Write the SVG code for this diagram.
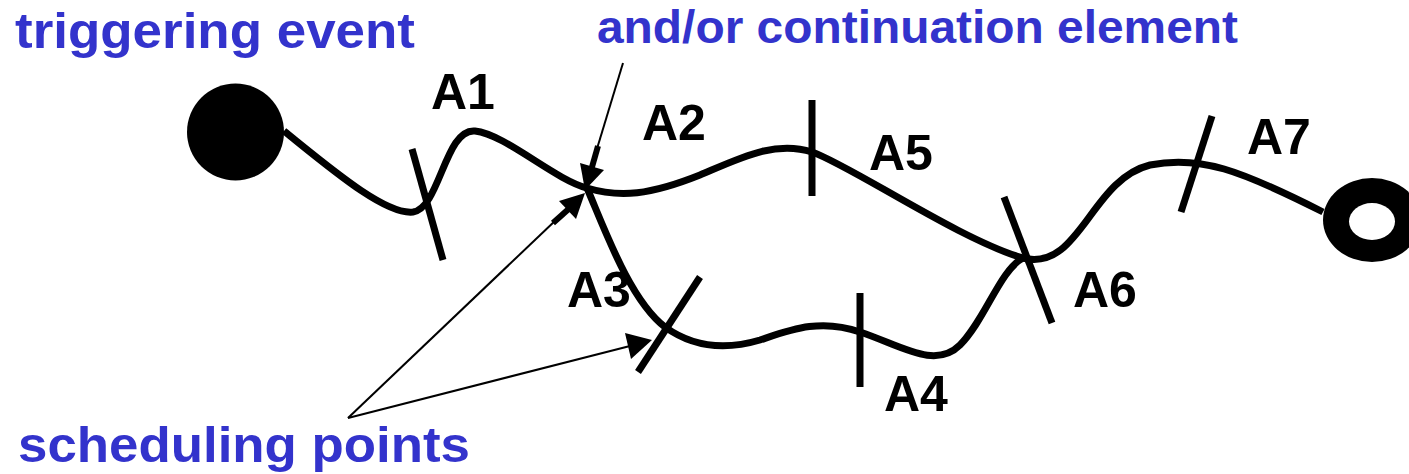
<svg xmlns="http://www.w3.org/2000/svg" width="1409" height="474" viewBox="0 0 1409 474">
<style>
.flow{fill:none;stroke:#000;stroke-width:7;stroke-linecap:butt}
.tick{stroke:#000;stroke-width:7;stroke-linecap:butt}
.thin{stroke:#000;stroke-width:2;fill:none}
.shaft{stroke:#000;stroke-width:6}
.head{fill:#000}
.lbl{font-family:"Liberation Sans",Arial,sans-serif;font-weight:bold;font-size:50px;fill:#000}
.note{font-family:"Liberation Sans",Arial,sans-serif;font-weight:bold;fill:#3333CC}
</style>
<rect width="1409" height="474" fill="#fff"/>
<g id="connectors">
<path class="flow" d="M284,131 C330,168 385,215 413,212 C440,208 445,128 475,131 C505,134 555,180 587,188 C620,198 650,195 700,175 C740,158 775,140 812,152 C850,165 960,240 1023,258 C1080,272 1090,180 1150,165 C1200,155 1240,170 1323,212"/>
<path class="flow" d="M587,188 C605,230 630,300 665,327 C690,345 720,352 760,340 C790,330 820,318 860,332 C900,345 935,370 960,345 C985,320 1000,270 1023,258"/>
</g>
<g id="start"><circle cx="235.5" cy="132" r="48.5" fill="#000"/></g>
<g id="end"><ellipse cx="1372" cy="220" rx="49" ry="42" fill="#000"/><ellipse cx="1372" cy="221.5" rx="23" ry="18.5" fill="#fff"/></g>
<g id="A1"><line class="tick" x1="412" y1="149" x2="443" y2="260"/><text class="lbl" x="431" y="109">A1</text></g>
<g id="A2"><text class="lbl" x="642" y="140">A2</text></g>
<g id="A3"><line class="tick" x1="700" y1="277" x2="638" y2="372"/><text class="lbl" x="567" y="307">A3</text></g>
<g id="A4"><line class="tick" x1="860" y1="293" x2="860" y2="387"/><text class="lbl" x="884" y="411">A4</text></g>
<g id="A5"><line class="tick" x1="812" y1="100" x2="812" y2="196"/><text class="lbl" x="869" y="170">A5</text></g>
<g id="A6"><line class="tick" x1="1004" y1="197" x2="1052" y2="323"/><text class="lbl" x="1073" y="307">A6</text></g>
<g id="A7"><line class="tick" x1="1212" y1="116" x2="1181" y2="212"/><text class="lbl" x="1247" y="154">A7</text></g>
<g id="arrows">
<line class="thin" x1="623" y1="63" x2="596" y2="152"/>
<line class="shaft" x1="590" y1="174" x2="598" y2="146"/>
<polygon class="head" points="585,190 604,170 580,163"/>
<line class="thin" x1="348" y1="418" x2="557" y2="219"/>
<line class="shaft" x1="572" y1="206" x2="553" y2="223"/>
<polygon class="head" points="585,193 576,219 559,201"/>
<line class="thin" x1="348" y1="418" x2="630" y2="346"/>
<polygon class="head" points="652,340 631,359 625,333"/>
</g>
<g id="labels">
<text class="note" x="15" y="48" font-size="50" textLength="400" lengthAdjust="spacingAndGlyphs">triggering event</text>
<text class="note" x="597" y="43" font-size="47" textLength="641" lengthAdjust="spacingAndGlyphs">and/or continuation element</text>
<text class="note" x="18" y="462" font-size="50" textLength="452" lengthAdjust="spacingAndGlyphs">scheduling points</text>
</g>
</svg>
